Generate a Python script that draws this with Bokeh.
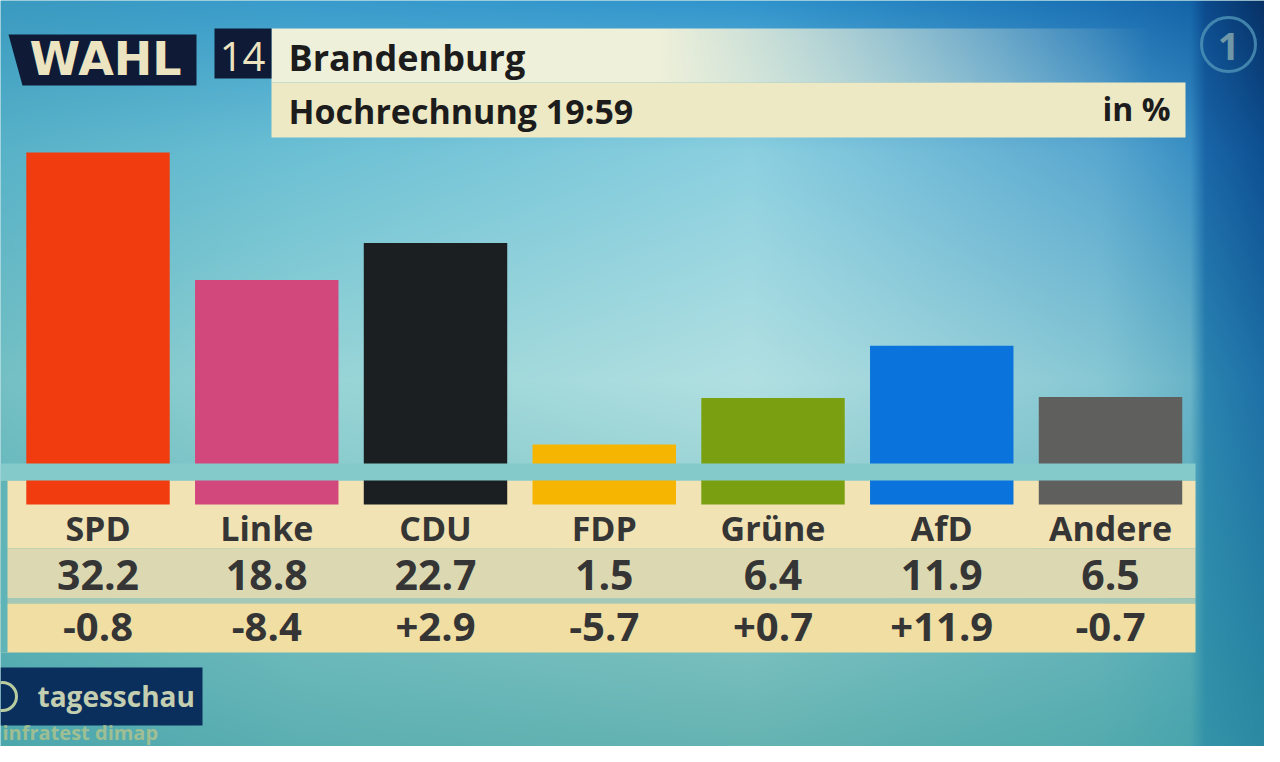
import numpy as np
from bokeh.plotting import figure
from bokeh.models import Range1d
from bokeh.core.properties import value
from bokeh.embed import file_html
from bokeh.resources import INLINE

# ---------------- data ----------------
parties = ["SPD", "Linke", "CDU", "FDP", "Grüne", "AfD", "Andere"]
shares = [32.2, 18.8, 22.7, 1.5, 6.4, 11.9, 6.5]
changes = [-0.8, -8.4, 2.9, -5.7, 0.7, 11.9, -0.7]
party_colors = ["#f03c0e", "#d3487c", "#1b1f21", "#f6b500", "#7aa012", "#0a74dc", "#5f5f5e"]
badge_word = "WAHL"
badge_year = "14"
title = "Brandenburg"
subtitle = "Hochrechnung 19:59"
unit_label = "in %"
broadcaster = "tagesschau"
pollster = "infratest dimap"

share_labels = [f"{v:.1f}" for v in shares]
change_labels = [f"{v:+.1f}" for v in changes]

# ---------------- layout helpers (picture pixels -> data coords) ----------------
W, H = 1264, 746
X0, XS = 97.5, 168.75    # px of first bar centre, px per category
Y0, YS = 458.3, 9.51     # px of the zero line, px per percentage point


def X(px):
    return (px - X0) / XS


def Y(py):
    return (Y0 - py) / YS


def TY(baseline_px, size):
    # anchor for a text whose visible baseline should sit at baseline_px
    return Y(baseline_px - 0.35 * size)


FONT = value("Open Sans")

p = figure(width=W, height=H, x_range=Range1d(X(0), X(W)), y_range=Range1d(Y(H), Y(0)),
           x_axis_type=None, y_axis_type=None, toolbar_location=None,
           output_backend="svg", min_border=0, outline_line_color=None,
           background_fill_color="#7cc4cc", border_fill_color="#7cc4cc")
p.grid.visible = False

# ---------------- background gradient (decoration) ----------------
gx = [0, 300, 750, 1100, 1190, 1205, 1280]
gy = [0, 150, 380, 762]
grid = [
    ["#3a9ac0", "#3a9ccc", "#3094cc", "#1a70b4", "#1464a8", "#0c4a8c", "#062a5a"],
    ["#58b2c8", "#6cc0d4", "#8cd0e0", "#5aa8d0", "#3a90c4", "#1a66a8", "#0a4a8c"],
    ["#74c0c4", "#96d4d6", "#b2e0e2", "#88c8d4", "#6ab4c8", "#2a84b0", "#1a6aa4"],
    ["#4aa6ac", "#5aaeb0", "#62b2b0", "#52aaac", "#48a4ac", "#3494a8", "#2a8aa0"],
]


def hex2rgb(h):
    return [int(h[i:i + 2], 16) for i in (1, 3, 5)]


G = np.array([[hex2rgb(c) for c in row] for row in grid], float)
nx, ny = W, H
pxs = np.arange(nx) + 0.5
pys = np.arange(ny) + 0.5
tmp = np.empty((len(gy), nx, 3))
for r in range(len(gy)):
    for c in range(3):
        tmp[r, :, c] = np.interp(pxs, gx, G[r, :, c])
img = np.empty((ny, nx, 3))
for c in range(3):
    for i in range(nx):
        img[:, i, c] = np.interp(pys, gy, tmp[:, i, c])

# header row 1: cream band fading out to the right
cream1 = np.array(hex2rgb("#eef0da"), float)
fade = np.clip((1150 - pxs) / (1150 - 660), 0, 1)
fade[(pxs < 271) | (pxs > 1185)] = 0
rows = (pys >= 28) & (pys < 82)
img[rows] = img[rows] * (1 - fade[None, :, None]) + cream1[None, None, :] * fade[None, :, None]

rgba = np.dstack([img, np.full((ny, nx), 255.0)]).astype(np.uint8)
bg = np.ascontiguousarray(rgba).view(np.uint32).reshape(ny, nx)[::-1]
p.image_rgba(image=[bg], x=X(0), y=Y(H), dw=X(W) - X(0), dh=Y(0) - Y(H))

# ---------------- header ----------------
navy = "#0e1a36"
p.patch(x=[X(8), X(196), X(196), X(22)], y=[Y(34), Y(34), Y(85), Y(85)],
        fill_color=navy, line_color=None)
p.quad(left=[X(214)], right=[X(271)], top=[Y(28)], bottom=[Y(78)], fill_color=navy, line_color=None)
p.text(x=[X(105)], y=[TY(75, 46)], text=[badge_word], text_align="center", text_baseline="alphabetic",
       text_font=value("DejaVu Sans"), text_font_style="bold", text_font_size="46px", text_color="#ece4c0")
p.text(x=[X(242)], y=[TY(70, 40)], text=[badge_year], text_align="center", text_baseline="alphabetic",
       text_font=FONT, text_font_size="40px", text_color="#ece4c0")

# row 2
p.quad(left=[X(271)], right=[X(1185)], top=[Y(82)], bottom=[Y(137)], fill_color="#ede9c4", line_color=None)

p.text(x=[X(288)], y=[TY(70, 36)], text=[title], text_align="left", text_baseline="alphabetic",
       text_font=FONT, text_font_style="bold", text_font_size="36px", text_color="#1c1c1c")
p.text(x=[X(288)], y=[TY(122, 34)], text=[subtitle], text_align="left", text_baseline="alphabetic",
       text_font=FONT, text_font_style="bold", text_font_size="34px", text_color="#1c1c1c")
p.text(x=[X(1170)], y=[TY(119, 32)], text=[unit_label], text_align="right", text_baseline="alphabetic",
       text_font=FONT, text_font_style="bold", text_font_size="32px", text_color="#1c1c1c")

# channel logo
p.scatter(x=[X(1228)], y=[Y(44)], size=54, marker="circle", fill_color=None,
          line_color="#4f93b8", line_width=3, line_alpha=0.8)
p.text(x=[X(1228)], y=[TY(59, 38)], text=["1"], text_align="center", text_baseline="alphabetic",
       text_font=FONT, text_font_style="bold", text_font_size="38px", text_color="#6f97a8")

# ---------------- table ----------------
tl, tr = X(0), X(1195)
p.quad(left=[tl], right=[tr], top=[Y(480)], bottom=[Y(548)], fill_color="#f1e3b3", line_color=None)
p.quad(left=[tl], right=[tr], top=[Y(548)], bottom=[Y(598)], fill_color="#dcd9b2", line_color=None)
p.quad(left=[tl], right=[tr], top=[Y(598)], bottom=[Y(603)], fill_color="#a4c8b8", line_color=None)
p.quad(left=[tl], right=[tr], top=[Y(603)], bottom=[Y(652)], fill_color="#f0dea2", line_color=None)
# thin teal edge on the far left of the table
p.quad(left=[X(0)], right=[X(7)], top=[Y(480)], bottom=[Y(652)], fill_color="#5fb4b8", line_color=None)

# ---------------- bars ----------------
xs = list(range(len(parties)))
p.vbar(x=xs, width=0.85, top=shares, bottom=Y(504), fill_color=party_colors, line_color=None)

# light strip crossing the bars
p.quad(left=[X(0)], right=[X(1195)], top=[Y(463)], bottom=[Y(480)], fill_color="#84cacb", line_color=None)

# table texts
txt = dict(text_align="center", text_baseline="alphabetic", text_font=FONT,
           text_font_style="bold", text_color="#353535")
p.text(x=xs, y=[TY(539, 34)] * len(xs), text=parties, text_font_size="34px", **txt)
p.text(x=xs, y=[TY(589, 41)] * len(xs), text=share_labels, text_font_size="41px", **txt)
p.text(x=xs, y=[TY(640, 40)] * len(xs), text=change_labels, text_font_size="40px", **txt)

# ---------------- footer ----------------
p.quad(left=[X(0)], right=[X(202)], top=[Y(667)], bottom=[Y(725)], fill_color="#0b2f5c", line_color=None)
p.scatter(x=[X(2)], y=[Y(696)], size=28, marker="circle", fill_color=None,
          line_color="#b8cca0", line_width=3)
p.text(x=[X(37)], y=[TY(705, 28)], text=[broadcaster], text_align="left", text_baseline="alphabetic",
       text_font=FONT, text_font_style="bold", text_font_size="28px", text_color="#c4ceb0")
p.text(x=[X(2)], y=[TY(739, 20)], text=[pollster], text_align="left", text_baseline="alphabetic",
       text_font=FONT, text_font_style="bold", text_font_size="20px", text_color="#b4c48c",
       text_alpha=0.8)

open("out.html", "w").write(file_html(p, INLINE))
